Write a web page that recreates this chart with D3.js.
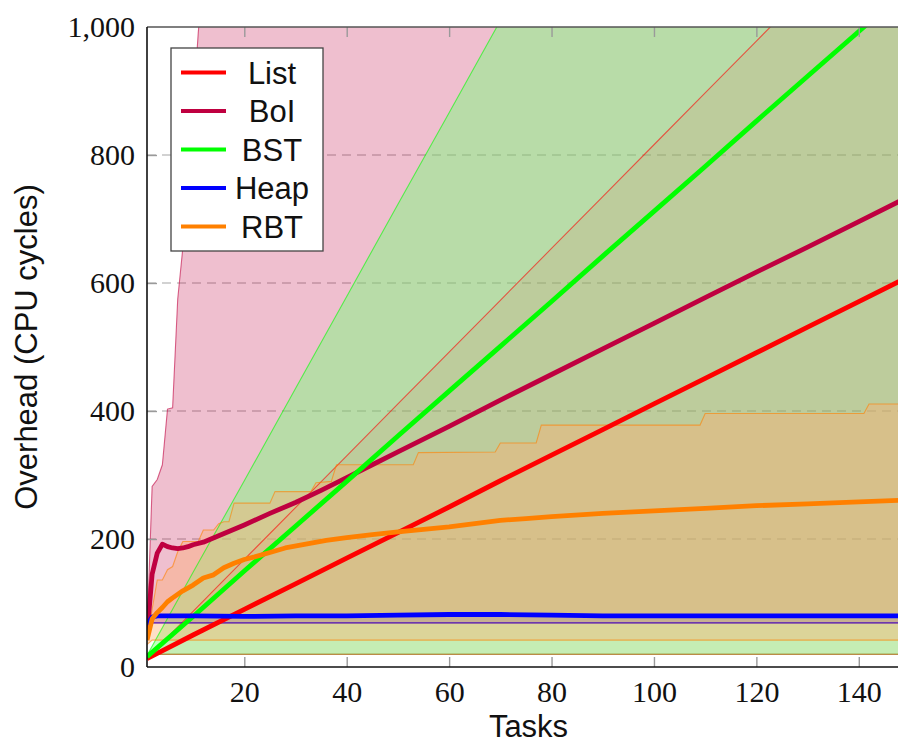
<!DOCTYPE html>
<html>
<head>
<meta charset="utf-8">
<script src="https://cdn.jsdelivr.net/npm/d3@7"></script>
<style>
  body { margin: 0; background: #fff; }
  svg { display: block; }
</style>
</head>
<body>
<svg id="chart" width="898" height="745"></svg>
<script>
// ---- Data: [tasks, overhead in CPU cycles] ----
const xTicks = [20, 40, 60, 80, 100, 120, 140];
const yTicks = [0, 200, 400, 600, 800, 1000];
const yGrid = [200, 400, 600, 800];

// List
const listMean = [[1,13],[10,50],[20,90],[30,130],[40,170],[50,210],[60,250],[70,291],[80,331],[90,371],[100,411],[110,451],[120,491],[130,531],[140,571],[150,611]];
const listHi = [[1,14],[10,87],[20,168],[30,249],[40,330],[50,411],[60,492],[70,573],[80,654],[90,735],[100,816],[110,897],[120,978],[130,1059],[140,1140],[150,1221]];
const listLo = [[1,12],[2,20],[150,20]];

// BoI
const boiMean = [[1,50],[2,145],[3,178],[4,192],[5,188],[6,186],[7,185],[8,186],[9,188],[10,191],[12,195],[15,205],[20,222],[25,240],[30,257],[35,276],[40,296],[45,316],[50,336],[60,376],[70,417],[80,457],[90,497],[100,537],[110,577],[120,617],[130,656],[140,696],[148,728],[150,736]];
const boiHi = [[1,50],[2,282],[3,293],[4,316],[5,403],[6,405],[7,575],[8,655],[9,760],[10,870],[11,990],[12,1090],[13,1180],[15,1300],[20,1500],[150,4000]];
const boiLo = [[1,45],[2,69],[150,69]];

// BST
const bstMean = [[1,16],[10,79],[20,150],[30,220],[40,290],[50,361],[60,431],[70,501],[80,571],[90,642],[100,712],[110,782],[120,853],[130,923],[140,993],[150,1063]];
const bstHi = [[1,18],[10,148],[20,291],[30,435],[40,579],[50,723],[60,866],[70,1010],[80,1154],[150,2160]];
const bstLo = [[1,14],[2,20],[150,20]];

// Heap
const heapMean = [[1,66],[2,78],[3,80],[5,80],[10,80],[20,79],[30,80],[40,80],[50,81],[60,82],[70,82],[80,81],[90,80],[100,80],[110,80],[120,80],[130,80],[140,80],[150,80]];
const heapHi = [[1,66],[2,80],[3,82],[150,82]];
const heapLo = [[1,62],[2,69],[150,69]];

// RBT
const rbtMean = [[1,42],[2,75],[3,85],[4,93],[5,102],[6,108],[8,119],[10,128],[12,139],[14,144],[16,155],[18,162],[20,168],[22,172],[25,179],[28,186],[32,192],[36,198],[40,202],[45,207],[50,211],[55,215],[60,219],[65,224],[70,229],[75,232],[80,235],[90,240],[100,244],[110,248],[120,252],[130,255],[140,258],[150,261]];
const rbtHi = [[1,42],[2,90],[3,136],[4,136],[5,152],[6,157],[7,180],[8,196],[11,196],[12,214],[14,214],[15,224],[16,227],[17,227],[18,256],[25,256],[26,274],[33,274],[34,288],[37,290],[38,316],[53,316],[54,335],[69,336],[70,350],[77,350],[78,378],[109,378],[110,396],[141,396],[142,411],[150,411]];
const rbtLo = [[1,35],[2,42],[150,42]];

const seriesNames = ["List", "BoI", "BST", "Heap", "RBT"];
const seriesColors = ["#ff0000", "#bf0040", "#00ff00", "#0000ff", "#ff8000"];
// Min/max band fills (tints of the series colours) and their opacity
const bandColors = ["#ff0000", "#bf0040", "#75ff78", "#0000ff", "#ffb070"];
const bandOpacity = [0.07, 0.25, 0.45, 0.15, 0.40];
const bandOrder = ["BoI", "BST", "List", "Heap", "RBT"];

const series = seriesNames.map((name, i) => ({
  name,
  color: seriesColors[i],
  band: bandColors[i],
  opacity: bandOpacity[i],
  mean: [listMean, boiMean, bstMean, heapMean, rbtMean][i],
  hi: [listHi, boiHi, bstHi, heapHi, rbtHi][i],
  lo: [listLo, boiLo, bstLo, heapLo, rbtLo][i]
}));
const byName = new Map(series.map(s => [s.name, s]));

// ---- Layout ----
const svg = d3.select("#chart");
const plot = { left: 147, right: 910, top: 27, bottom: 667 };

const x = d3.scaleLinear().domain([1, 150]).range([plot.left, plot.right]);
const y = d3.scaleLinear().domain([0, 1000]).range([plot.bottom, plot.top]);

svg.append("defs").append("clipPath").attr("id", "plotClip")
  .append("rect")
  .attr("x", plot.left).attr("y", plot.top)
  .attr("width", plot.right - plot.left).attr("height", plot.bottom - plot.top);

// Horizontal dashed grid
svg.append("g").selectAll("line").data(yGrid).join("line")
  .attr("x1", plot.left).attr("x2", plot.right)
  .attr("y1", d => y(d)).attr("y2", d => y(d))
  .attr("stroke", "#c4c4c4").attr("stroke-width", 1.3)
  .attr("stroke-dasharray", "9,6");

const g = svg.append("g").attr("clip-path", "url(#plotClip)");
const line = d3.line().x(d => x(d[0])).y(d => y(d[1]));

// Min/max bands
bandOrder.map(n => byName.get(n)).forEach(s => {
  const poly = s.hi.concat(s.lo.slice().reverse());
  g.append("path")
    .attr("d", line(poly) + "Z")
    .attr("fill", s.band).attr("fill-opacity", s.opacity)
    .attr("stroke", "none");
});
bandOrder.map(n => byName.get(n)).forEach(s => {
  [s.hi, s.lo].forEach(edge => {
    g.append("path")
      .attr("d", line(edge))
      .attr("fill", "none")
      .attr("stroke", s.color).attr("stroke-opacity", 0.6)
      .attr("stroke-width", 1.1);
  });
});

// Mean lines
series.forEach(s => {
  g.append("path")
    .attr("d", line(s.mean))
    .attr("fill", "none")
    .attr("stroke", s.color)
    .attr("stroke-width", 4.8)
    .attr("stroke-linejoin", "round");
});

// ---- Axes ----
const tickFont = "'Liberation Serif', 'Times New Roman', serif";

const xAxis = svg.append("g")
  .attr("transform", `translate(0,${plot.bottom})`)
  .call(d3.axisBottom(x).tickValues(xTicks).tickSize(-10).tickPadding(14));
const xTop = svg.append("g")
  .attr("transform", `translate(0,${plot.top})`)
  .call(d3.axisTop(x).tickValues(xTicks).tickSize(-10).tickFormat(""));
const yAxis = svg.append("g")
  .attr("transform", `translate(${plot.left},0)`)
  .call(d3.axisLeft(y).tickValues(yTicks).tickSize(-10).tickPadding(12).tickFormat(d3.format(",")));

[xAxis, xTop, yAxis].forEach(a => {
  a.select(".domain").remove();
  a.selectAll(".tick line").attr("stroke", "#9a9a9a").attr("stroke-width", 1.4);
  a.selectAll(".tick text")
    .attr("fill", "#111")
    .style("font-family", tickFont)
    .style("font-size", "30px");
});
yAxis.selectAll(".tick").filter(d => d === 0 || d === 1000).select("line").remove();

// Frame
svg.append("line").attr("x1", plot.left).attr("x2", plot.right)
  .attr("y1", plot.top).attr("y2", plot.top)
  .attr("stroke", "#555").attr("stroke-width", 1.4);
svg.append("line").attr("x1", plot.left).attr("x2", plot.right)
  .attr("y1", plot.bottom).attr("y2", plot.bottom)
  .attr("stroke", "#111").attr("stroke-width", 1.6);
svg.append("line").attr("x1", plot.left).attr("x2", plot.left)
  .attr("y1", plot.top).attr("y2", plot.bottom)
  .attr("stroke", "#111").attr("stroke-width", 1.6);

// Axis titles
const titleFont = "'Liberation Sans', Arial, Helvetica, sans-serif";
svg.append("text")
  .attr("x", (plot.left + plot.right) / 2).attr("y", 737)
  .attr("text-anchor", "middle")
  .style("font-family", titleFont).style("font-size", "31px")
  .attr("fill", "#111")
  .text("Tasks");
svg.append("text")
  .attr("transform", `translate(37,${(plot.top + plot.bottom) / 2}) rotate(-90)`)
  .attr("text-anchor", "middle")
  .style("font-family", titleFont).style("font-size", "31px")
  .attr("fill", "#111")
  .text("Overhead (CPU cycles)");

// ---- Legend ----
const legend = svg.append("g");
legend.append("rect")
  .attr("x", 171).attr("y", 48).attr("width", 152).attr("height", 203)
  .attr("fill", "#fff").attr("stroke", "#444").attr("stroke-width", 1.3);
const rowY = d3.scalePoint().domain(seriesNames).range([72.5, 226.5]);
series.forEach(s => {
  const yy = rowY(s.name);
  legend.append("line")
    .attr("x1", 181).attr("x2", 226).attr("y1", yy).attr("y2", yy)
    .attr("stroke", s.color).attr("stroke-width", 4.2);
  legend.append("text")
    .attr("x", 272).attr("y", yy + 11)
    .attr("text-anchor", "middle")
    .style("font-family", titleFont).style("font-size", "31px")
    .attr("fill", "#111")
    .text(s.name);
});
</script>
</body>
</html>
